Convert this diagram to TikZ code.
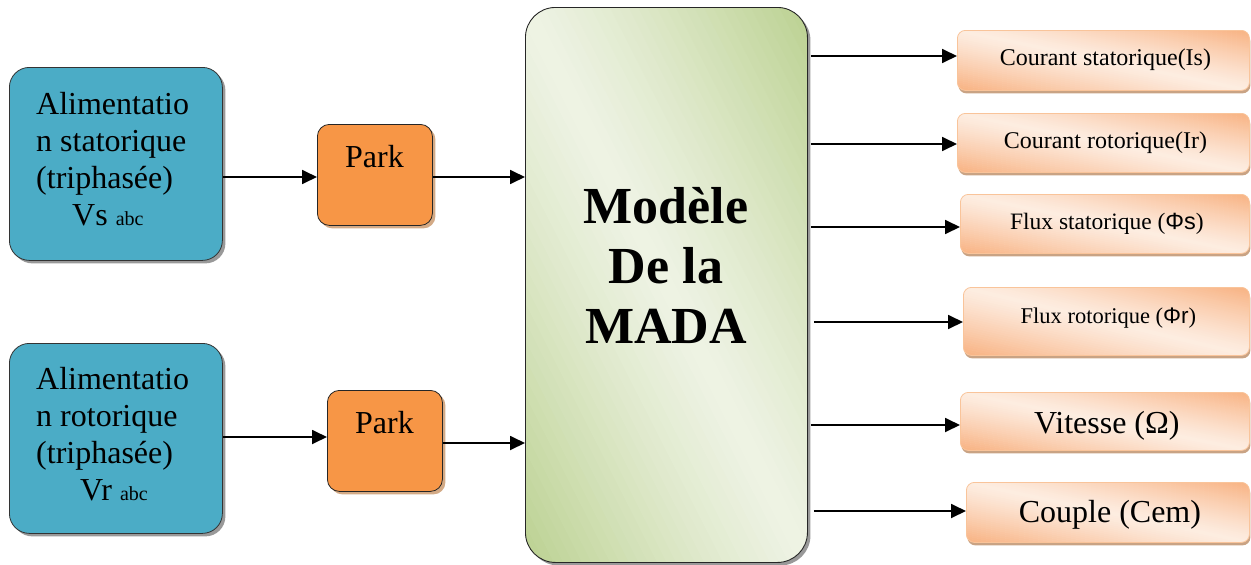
\documentclass[tikz,border=0pt]{standalone}
\usepackage{fontspec}
\setmainfont{Liberation Serif}
\newfontfamily\sansf{Liberation Sans}
\usetikzlibrary{arrows.meta,shadows,calc}
\definecolor{aqua}{HTML}{4BACC6}
\definecolor{parkor}{HTML}{F79646}
\definecolor{gdark}{HTML}{BBD191}
\definecolor{glight}{HTML}{EEF3E4}
\definecolor{odark}{HTML}{F8B282}
\definecolor{olight}{HTML}{FDEDE1}
\definecolor{oborder}{HTML}{F9C49A}
\definecolor{oshadow}{HTML}{C9A384}
\definecolor{pshadow}{HTML}{D3AA86}
\tikzset{
  diagshade/.style 2 args={fill=#2, path picture={
    \foreach \gi in {0,...,59}{
      \pgfmathsetmacro\gta{\gi/60}
      \pgfmathsetmacro\gtb{(\gi+1.2)/60}
      \pgfmathsetmacro\gw{100*abs(2*(\gi+0.5)/60-1)^1.2}
      \fill[#1!\gw!#2]
        ($(path picture bounding box.south west)!\gta!(path picture bounding box.north east)+(path picture bounding box.north west)-(path picture bounding box.south east)$) --
        ($(path picture bounding box.south west)!\gta!(path picture bounding box.north east)-(path picture bounding box.north west)+(path picture bounding box.south east)$) --
        ($(path picture bounding box.south west)!\gtb!(path picture bounding box.north east)-(path picture bounding box.north west)+(path picture bounding box.south east)$) --
        ($(path picture bounding box.south west)!\gtb!(path picture bounding box.north east)+(path picture bounding box.north west)-(path picture bounding box.south east)$) -- cycle;
    }}},
  bluebox/.style={draw=black!80, line width=0.8pt, fill=aqua, rounded corners=20pt, inner sep=0pt,
    drop shadow={shadow xshift=3pt, shadow yshift=-3pt, fill=black!40, opacity=1}},
  parkbox/.style={draw=black!85, line width=0.8pt, fill=parkor, rounded corners=12pt, inner sep=0pt,
    drop shadow={shadow xshift=3pt, shadow yshift=-3pt, fill=pshadow, opacity=1}},
  madabox/.style={draw=black!85, line width=0.9pt, rounded corners=30pt, inner sep=0pt,
    diagshade={gdark}{glight},
    drop shadow={shadow xshift=3pt, shadow yshift=-3pt, fill=black!40, opacity=1}},
  outbox/.style={draw=oborder, line width=0.8pt, rounded corners=8pt, inner sep=0pt, anchor=north west,
    diagshade={odark}{olight},
    drop shadow={shadow xshift=1pt, shadow yshift=-3pt, fill=oshadow, opacity=1}},
  txt/.style={inner sep=0pt, text=black},
  arr/.style={line width=1.8pt, -{Triangle[length=15pt,width=14pt]}}
}
\begin{document}
\begin{tikzpicture}[x=1pt,y=1pt]
\useasboundingbox (0,-565) rectangle (1251,0);
% left supply boxes
\node[bluebox, minimum width=213pt, minimum height=193pt, anchor=north west] (as) at (9,-67) {};
\node[txt, anchor=base west, align=left, font=\fontsize{32}{37}\selectfont] (ast) at (36,-225)
  {Alimentatio\\n statorique\\(triphasée)\\\hspace*{36pt}Vs {\fontsize{20}{20}\selectfont abc}};
\node[bluebox, minimum width=213pt, minimum height=190pt, anchor=north west] (ar) at (9,-343) {};
\node[txt, anchor=base west, align=left, font=\fontsize{32}{37}\selectfont] (art) at (36,-500)
  {Alimentatio\\n rotorique\\(triphasée)\\\hspace*{44pt}Vr {\fontsize{20}{20}\selectfont abc}};
% Park boxes
\node[parkbox, minimum width=115pt, minimum height=101pt, anchor=north west] (p1) at (317,-124) {};
\node[txt, anchor=base, font=\fontsize{32}{37}\selectfont] (p1t) at (374.5,-167) {Park};
\node[parkbox, minimum width=115pt, minimum height=101pt, anchor=north west] (p2) at (327,-390) {};
\node[txt, anchor=base, font=\fontsize{32}{37}\selectfont] (p2t) at (384.5,-433) {Park};
% MADA
\node[madabox, minimum width=282pt, minimum height=555pt, anchor=north west] (mada) at (525,-7) {};
\node[txt, anchor=base, align=center, font=\bfseries\fontsize{52}{60}\selectfont] (madat) at (666,-343)
  {Modèle\\De la\\MADA};
% outputs
\node[outbox, minimum width=292pt, minimum height=60pt] (o1) at (957,-30) {};
\node[txt, anchor=base, font=\fontsize{24}{28}\selectfont] (o1t) at ([xshift=2pt]o1.center |- 0,-65) {Courant statorique(Is)};
\node[outbox, minimum width=292pt, minimum height=59pt] (o2) at (957,-113) {};
\node[txt, anchor=base, font=\fontsize{24}{28}\selectfont] (o2t) at ([xshift=2pt]o2.center |- 0,-148) {Courant rotorique(Ir)};
\node[outbox, minimum width=289pt, minimum height=59pt] (o3) at (960,-194) {};
\node[txt, anchor=base, font=\fontsize{23.5}{28}\selectfont] (o3t) at ([xshift=2pt]o3.center |- 0,-229) {Flux statorique ({\sansf Φs})};
\node[outbox, minimum width=286pt, minimum height=68pt] (o4) at (963,-287) {};
\node[txt, anchor=base, font=\fontsize{22.5}{28}\selectfont] (o4t) at ([xshift=2pt]o4.center |- 0,-323) {Flux rotorique ({\sansf Φr})};
\node[outbox, minimum width=289pt, minimum height=58pt] (o5) at (960,-392) {};
\node[txt, anchor=base, font=\fontsize{32}{37}\selectfont] (o5t) at ([xshift=2pt]o5.center |- 0,-433) {Vitesse (Ω)};
\node[outbox, minimum width=283pt, minimum height=60pt] (o6) at (966,-482) {};
\node[txt, anchor=base, font=\fontsize{32}{37}\selectfont] (o6t) at ([xshift=2pt]o6.center |- 0,-522) {Couple (Cem)};
% connectors
\draw[arr] (as.east |- 0,-177) -- (p1.west |- 0,-177);
\draw[arr] (p1.east |- 0,-177) -- (mada.west |- 0,-177);
\draw[arr] (ar.east |- 0,-437) -- (p2.west |- 0,-437);
\draw[arr] (p2.east |- 0,-443) -- (mada.west |- 0,-443);
\draw[arr] ([xshift=3pt]mada.east |- 0,-56) -- (o1.west |- 0,-56);
\draw[arr] ([xshift=3pt]mada.east |- 0,-144) -- (o2.west |- 0,-144);
\draw[arr] ([xshift=3pt]mada.east |- 0,-227) -- (o3.west |- 0,-227);
\draw[arr] ([xshift=6pt]mada.east |- 0,-322) -- (o4.west |- 0,-322);
\draw[arr] ([xshift=3pt]mada.east |- 0,-425) -- (o5.west |- 0,-425);
\draw[arr] ([xshift=6pt]mada.east |- 0,-511) -- (o6.west |- 0,-511);
\end{tikzpicture}
\end{document}
